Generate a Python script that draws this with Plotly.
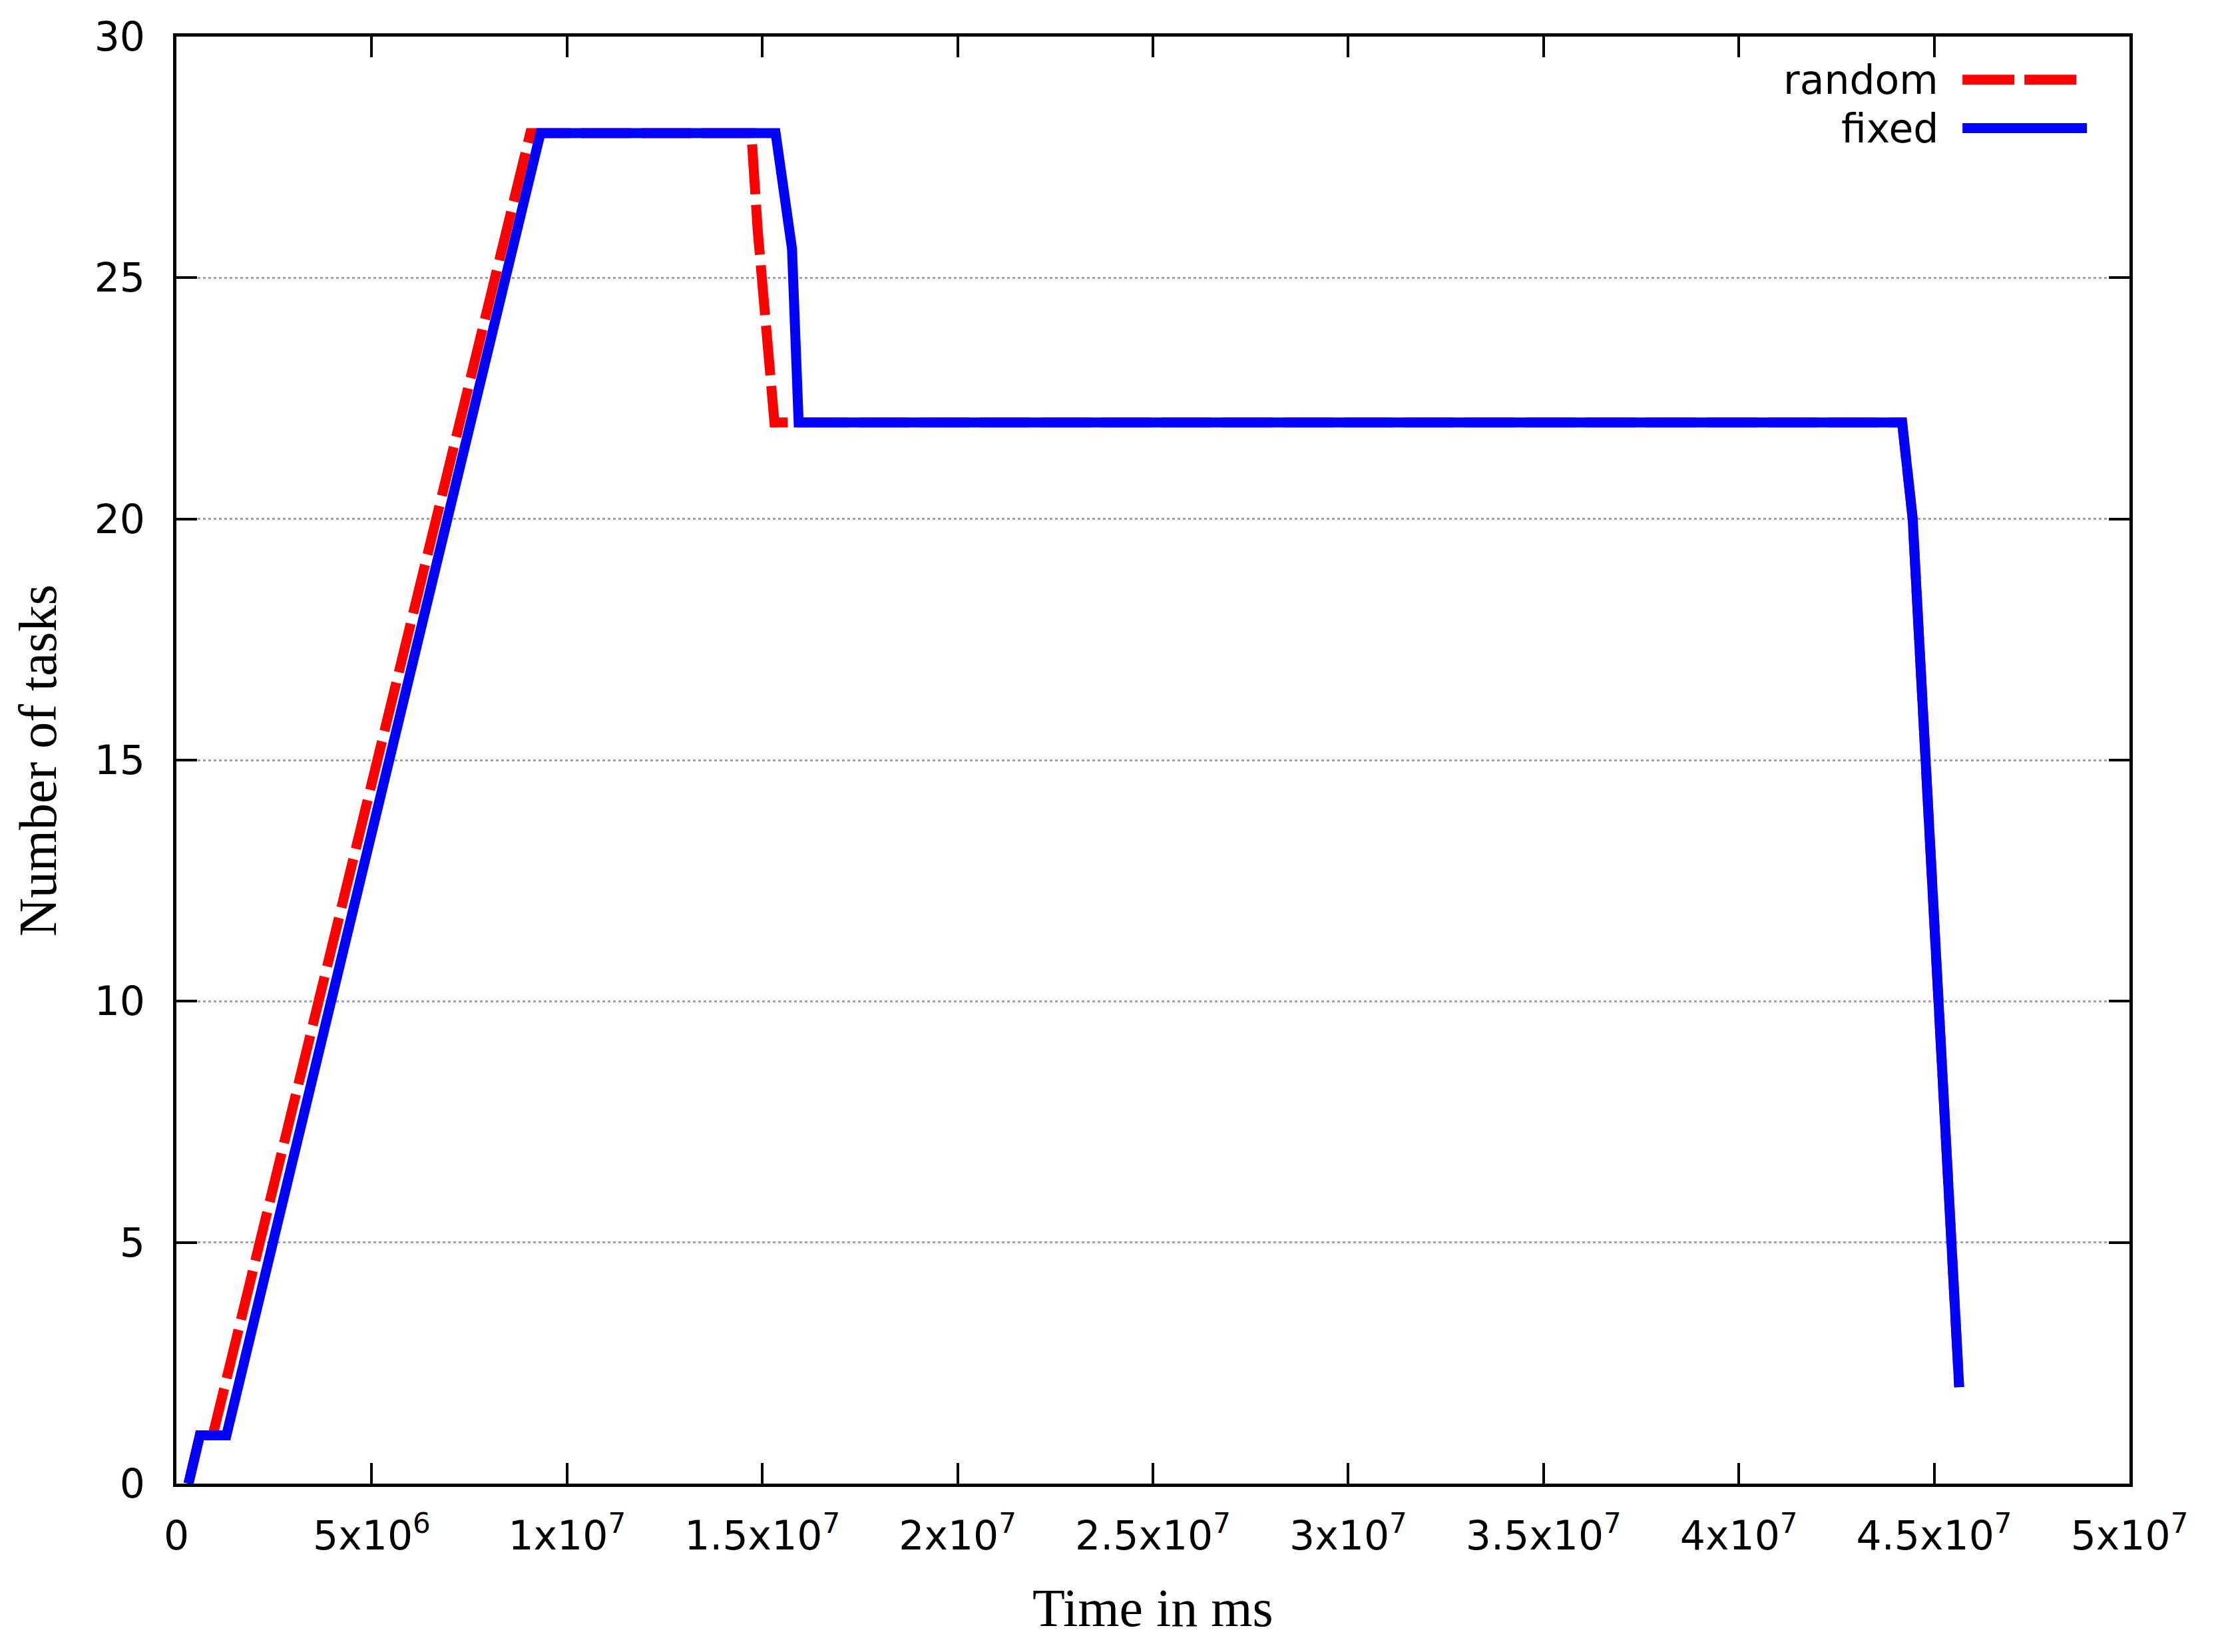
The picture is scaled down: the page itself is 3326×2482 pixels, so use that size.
import plotly.graph_objects as go

# data (time in ms, number of tasks)
random_x = [0.31e6, 0.60e6, 0.93e6, 9.06e6, 14.72e6, 14.88e6, 15.31e6,
            44.18e6, 44.45e6, 44.72e6, 45.33e6, 45.64e6]
random_y = [0, 1, 1, 28, 28, 26, 22, 22, 20, 16, 6.5, 2]

fixed_x = [0.31e6, 0.60e6, 1.28e6, 9.32e6, 15.34e6, 15.76e6, 15.93e6,
           44.18e6, 44.45e6, 44.72e6, 45.33e6, 45.64e6]
fixed_y = [0, 1, 1, 28, 28, 25.6, 22, 22, 20, 16, 6.5, 2]

x_tickvals = [0, 5e6, 1e7, 1.5e7, 2e7, 2.5e7, 3e7, 3.5e7, 4e7, 4.5e7, 5e7]
x_ticktext = ["0", "5x10<sup>6</sup>", "1x10<sup>7</sup>", "1.5x10<sup>7</sup>",
              "2x10<sup>7</sup>", "2.5x10<sup>7</sup>", "3x10<sup>7</sup>",
              "3.5x10<sup>7</sup>", "4x10<sup>7</sup>", "4.5x10<sup>7</sup>",
              "5x10<sup>7</sup>"]
y_tickvals = [0, 5, 10, 15, 20, 25, 30]

RED = "#ff0000"
BLUE = "#0000ff"
RED_DASH = "75px,16px"

fig = go.Figure()

#random first so fixed is drawn on top
fig.add_trace(go.Scatter(x=random_x, y=random_y, mode="lines", name="random",
                         line=dict(color=RED, width=15, dash=RED_DASH),
                         showlegend=False, hoverinfo="skip"))
fig.add_trace(go.Scatter(x=fixed_x, y=fixed_y, mode="lines", name="fixed",
                         line=dict(color=BLUE, width=15),
                         showlegend=False, hoverinfo="skip"))

axis_common = dict(showline=True, linecolor="black", linewidth=5,
                   mirror="ticks", ticks="inside", ticklen=31, tickwidth=4,
                   tickcolor="black", zeroline=False,
                   tickfont=dict(family="DejaVu Sans", size=60, color="black"))

fig.update_xaxes(range=[0, 5e7], tickmode="array", tickvals=x_tickvals,
                 ticktext=x_ticktext, showgrid=False, ticklabelstandoff=22,
                 **axis_common)
fig.update_yaxes(range=[0, 30], tickmode="array", tickvals=y_tickvals,
                 showgrid=True, gridcolor="#a0a0a0", gridwidth=3,
                 griddash="4px,4px", ticklabelstandoff=30, **axis_common)

# gnuplot-style key: label on the left, sample on the right
legend_font = dict(family="DejaVu Sans", size=60, color="black")
fig.add_annotation(x=0.9029, y=0.9702, xref="paper", yref="paper", text="random",
                   showarrow=False, xanchor="right", yanchor="middle", font=legend_font)
fig.add_annotation(x=0.9029, y=0.9367, xref="paper", yref="paper", text="fixed",
                   showarrow=False, xanchor="right", yanchor="middle", font=legend_font)
fig.add_shape(type="line", xref="paper", yref="paper", x0=0.9145, x1=0.9731,
              y0=0.9702, y1=0.9702, line=dict(color=RED, width=15, dash="78px,15px"))
fig.add_shape(type="line", xref="paper", yref="paper", x0=0.9145, x1=0.9782,
              y0=0.9367, y1=0.9367, line=dict(color=BLUE, width=15))

# axis titles
title_font = dict(family="Liberation Serif", size=80, color="black")
fig.add_annotation(x=0.5, y=-0.0862, xref="paper", yref="paper", text="Time in ms",
                   showarrow=False, xanchor="center", yanchor="middle", font=title_font)
fig.add_annotation(x=-0.0709, y=0.5, xref="paper", yref="paper", text="Number of tasks",
                   showarrow=False, textangle=-90, xanchor="center", yanchor="middle",
                   font=title_font)

# page body has an 8px margin, so the figure is shrunk by that much
fig.update_layout(width=3318, height=2474,
                  margin=dict(l=257, r=127, t=39, b=253),
                  plot_bgcolor="white", paper_bgcolor="white",
                  showlegend=False)

fig.write_html("out.html")
